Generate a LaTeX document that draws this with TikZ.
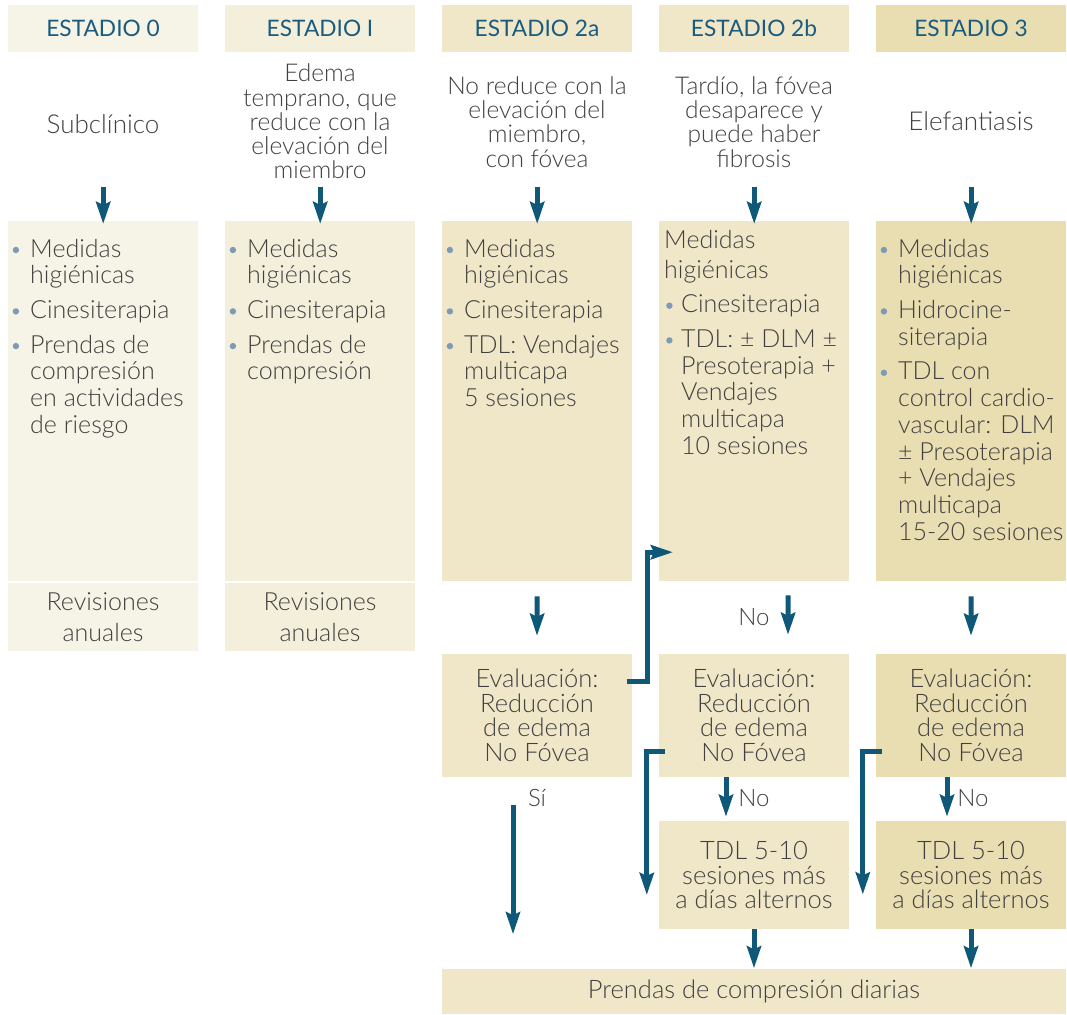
\documentclass[tikz,border=0pt]{standalone}
\usepackage{fontspec}
\usetikzlibrary{arrows.meta,calc}
\IfFontExistsTF{Lato Light}{\setmainfont{Lato Light}}{\setmainfont{Lato}}
\newfontfamily\headfont{Lato}

% palette
\definecolor{colA}{HTML}{F6F3E7}
\definecolor{colB}{HTML}{F4EFDA}
\definecolor{colC}{HTML}{F0E7C9}
\definecolor{colD}{HTML}{E9DEB2}
\definecolor{ink}{HTML}{404040}
\definecolor{headc}{HTML}{1B5C7E}
\definecolor{arrc}{HTML}{0F5878}
\definecolor{bulc}{HTML}{7D9BB7}

% bullets for the treatment lists
\newcommand\bul{\makebox[22pt][l]{\hspace{4.5pt}\raisebox{4pt}{\tikz\fill[bulc] (0,0) circle (3.2pt);}}}
\newcommand\bulB{\makebox[17pt][l]{\hspace{2pt}\raisebox{4pt}{\tikz\fill[bulc] (0,0) circle (3.2pt);}}}
% #1 top gap, #2 left gap, #3 rows
\newcommand\plist[3]{\parbox[t][360pt][t]{190pt}{\fontsize{25}{26.7}\selectfont
  \vspace*{#1}\hspace*{#2}\begin{tabular}[t]{@{}l@{}l@{}}#3\end{tabular}}}

\tikzset{
  every node/.style={text=ink},
  hdr/.style={minimum width=190pt, minimum height=47pt, inner sep=0pt,
    font=\headfont\fontsize{22.7}{26}\selectfont, text=headc},
  desc/.style={align=center, inner sep=0pt, font=\fontsize{24.5}{24.3}\selectfont},
  single/.style={inner sep=0pt, font=\fontsize{26}{28}\selectfont},
  panel/.style={inner sep=0pt, anchor=north west},
  box/.style={minimum width=190pt, inner sep=0pt, align=center,
    font=\fontsize{25.5}{24.5}\selectfont},
  lbl/.style={inner sep=0pt, font=\fontsize{24}{24}\selectfont},
  arr/.style={draw=arrc, line width=5pt, line join=miter,
    -{Stealth[length=22pt,width=14pt,inset=3pt]}},
}

\begin{document}
\begin{tikzpicture}[x=1pt,y=-1pt]
\useasboundingbox (0,0) rectangle (1067,1014);

% stage headers
\node[hdr, fill=colA] (h0)  at (103,28.5) {ESTADIO 0};
\node[hdr, fill=colB] (h1)  at (320,28.5) {ESTADIO I};
\node[hdr, fill=colC] (h2a) at (537,28.5) {ESTADIO 2a};
\node[hdr, fill=colC] (h2b) at (754,28.5) {ESTADIO 2b};
\node[hdr, fill=colD] (h3)  at (971,28.5) {ESTADIO 3};

% stage descriptions
\node[single] (d0)  at (103,124)   {Subclínico};
\node[desc] (d1)  at (320,121.5) {Edema\\temprano, que\\reduce con la\\elevación del\\miembro};
\node[desc] (d2a) at (537,122)   {No reduce con la\\elevación del\\miembro,\\con fóvea};
\node[desc] (d2b) at (754,122)   {Tardío, la fóvea\\desaparece y\\puede haber\\fibrosis};
\node[single] (d3)  at (971,121)   {Elefantiasis};

% treatment panels
\node[panel, fill=colA] (b0) at (8,221) {\plist{17.3pt}{0pt}{%
  \bul & Medidas\\ & higiénicas\\[8pt]
  \bul & Cinesiterapia\\[8pt]
  \bul & Prendas de\\ & compresión\\ & en actividades\\ & de riesgo}};
\node[panel, fill=colB] (b1) at (225,221) {\plist{17.3pt}{0pt}{%
  \bul & Medidas\\ & higiénicas\\[8pt]
  \bul & Cinesiterapia\\[8pt]
  \bul & Prendas de\\ & compresión}};
\node[panel, fill=colC] (b2a) at (442,221) {\plist{17.3pt}{0pt}{%
  \bul & Medidas\\ & higiénicas\\[8pt]
  \bul & Cinesiterapia\\[8pt]
  \bul & TDL: Vendajes\\ & multicapa\\ & 5 sesiones}};
\node[panel, fill=colC] (b2b) at (659,221) {\plist{8.3pt}{5pt}{%
  \multicolumn{2}{@{}l@{}}{Medidas}\\[3.3pt]
  \multicolumn{2}{@{}l@{}}{higiénicas}\\[8pt]
  \bulB & Cinesiterapia\\[8pt]
  \bulB & TDL: ± DLM ±\\ & Presoterapia +\\ & Vendajes\\ & multicapa\\ & 10 sesiones}};
\node[panel, fill=colD] (b3) at (876,221) {\plist{17.3pt}{0pt}{%
  \bul & Medidas\\ & higiénicas\\[8pt]
  \bul & Hidrocine-\\ & siterapia\\[8pt]
  \bul & TDL con\\ & control cardio-\\ & vascular: DLM\\ & ± Presoterapia\\
       & + Vendajes\\ & multicapa\\ & 15-20 sesiones}};

% yearly check-ups
\node[box, fill=colA, minimum height=68pt, font=\fontsize{25}{31}\selectfont] (r0) at (103,617) {Revisiones\\anuales};
\node[box, fill=colB, minimum height=68pt, font=\fontsize{25}{31}\selectfont] (r1) at (320,617) {Revisiones\\anuales};

% evaluation
\node[box, fill=colC, minimum height=123pt] (e2a) at (537,715.5) {Evaluación:\\Reducción\\de edema\\No Fóvea};
\node[box, fill=colC, minimum height=123pt] (e2b) at (754,715.5) {Evaluación:\\Reducción\\de edema\\No Fóvea};
\node[box, fill=colD, minimum height=123pt] (e3)  at (971,715.5) {Evaluación:\\Reducción\\de edema\\No Fóvea};

% extra sessions
\node[box, fill=colC, minimum height=108pt] (t2b) at (754,875) {TDL 5-10\\sesiones más\\a días alternos};
\node[box, fill=colD, minimum height=108pt] (t3)  at (971,875) {TDL 5-10\\sesiones más\\a días alternos};

% final step
\node[box, fill=colC, minimum width=624pt, minimum height=45pt] (pc) at (754,991) {Prendas de compresión diarias};

% description -> treatment
\foreach \n in {b0,b1,b2a,b2b,b3}
  \draw[arr] ([yshift=34pt]\n.north) -- ([yshift=-3pt]\n.north);

% treatment -> evaluation
\draw[arr] ([yshift=-15pt]b2a.south) -- ([yshift=18pt]e2a.north);
\draw[arr] ([shift={(34pt,-14pt)}]b2b.south) -- ([shift={(34pt,19pt)}]e2b.north);
\node[lbl] (no1) at (754,617) {No};
\draw[arr] ([yshift=-15pt]b3.south) -- ([yshift=18pt]e3.north);

% evaluation -> extra sessions
\draw[arr] ([xshift=-28pt]e2b.south) -- ([shift={(-28pt,4pt)}]t2b.north);
\node[lbl] (no2) at (754,798) {No};
\draw[arr] ([xshift=-24pt]e3.south) -- ([shift={(-24pt,4pt)}]t3.north);
\node[lbl] (no3) at (973,798) {No};

% extra sessions -> compression garments
\draw[arr] (t2b.south) -- (t2b.south |- pc.north);
\draw[arr] (t3.south) -- (t3.south |- pc.north);

% positive outcome
\draw[arr] ($(e2a.south)+(-24,28)$) -- ($(e2a.south)+(-24,157)$);
\node[lbl] (si) at (537,798) {Sí};

% loops
\draw[arr] ($(e2a.east)+(-5,-34.5)$) -- ++(20,0) |- ($(b2b.west)+(14,151)$);
\draw[arr] ($(e2b.west)+(6,35.5)$) -- ++(-18,0) -- ++(0,144);
\draw[arr] ($(e3.west)+(6,36)$) -- ++(-19,0) -- ++(0,143);
\end{tikzpicture}
\end{document}
